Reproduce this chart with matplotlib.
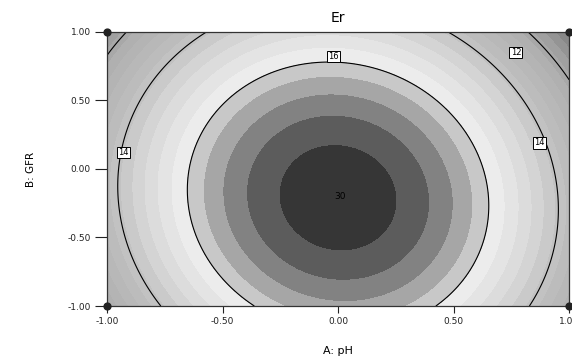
import numpy as np
import matplotlib
matplotlib.use("Agg")
import matplotlib.pyplot as plt

# quadratic model in coded units (A: pH, B: GFR)
b0 = 17.68
b_lin = [-0.067, -0.756]          # A, B
b_quad = [-4.15, -1.80]           # A^2, B^2
b_int = -0.32                     # AB

# shading bands and their grey tones (picture is a colour map printed in grey)
band_levels = [10.0, 10.375, 10.75, 11.125, 11.5, 11.875, 12.25, 12.625, 13.0,
               13.375, 13.75, 14.125, 14.5, 14.875, 15.25, 15.625, 16.0,
               16.375, 16.75, 17.125, 17.5, 18.5]
band_greys = ['#6a6a6a', '#7a7a7a', '#888888', '#949494', '#a0a0a0', '#a8a8a8',
              '#b0b0b0', '#b4b4b4', '#b8b8b8', '#bcbcbc', '#c2c2c2', '#cacaca',
              '#d4d4d4', '#dcdcdc', '#e4e4e4', '#ececec', '#c8c8c8', '#a6a6a6',
              '#828282', '#5c5c5c', '#363636']
line_levels = [12, 14, 16]

# contour label positions (coded units)
label_text = ['12', '16', '14', '14']
label_x = [0.77, -0.02, -0.93, 0.87]
label_y = [0.85, 0.82, 0.12, 0.19]

# design points
design_x = [-1, 1, -1, 1]
design_y = [-1, -1, 1, 1]
center_label = '30'
center_pos = (0.01, -0.20)

ticks = [-1.0, -0.5, 0.0, 0.5, 1.0]
tick_labels = ['-1.00', '-0.50', '0.00', '0.50', '1.00']

a = np.linspace(-1, 1, 400)
A, B = np.meshgrid(a, a)
Z = (b0 + b_lin[0] * A + b_lin[1] * B + b_quad[0] * A ** 2
     + b_quad[1] * B ** 2 + b_int * A * B)

fig = plt.figure(figsize=(5.72, 3.63), dpi=100)
ax = fig.add_axes([0.187, 0.157, 0.808, 0.755])

ax.contourf(A, B, Z, levels=band_levels, colors=band_greys, antialiased=False)
ax.contour(A, B, Z, levels=line_levels, colors='black', linewidths=0.8)

for t, x, y in zip(label_text, label_x, label_y):
    ax.text(x, y, t, fontsize=6, ha='center', va='center', zorder=5,
            bbox=dict(boxstyle='square,pad=0.15', fc='white', ec='black', lw=0.7))

ax.text(center_pos[0], center_pos[1], center_label, fontsize=6.5,
        ha='center', va='center')

ax.scatter(design_x, design_y, s=24, c='#222222', clip_on=False, zorder=6)

ax.set_xlim(-1, 1)
ax.set_ylim(-1, 1)
ax.set_xticks(ticks)
ax.set_xticklabels(tick_labels)
ax.set_yticks(ticks)
ax.set_yticklabels(tick_labels)
ax.tick_params(axis='x', direction='out', length=5, width=0.8, pad=3,
               labelsize=6.5, colors='#222222')
ax.tick_params(axis='y', direction='out', length=8.5, width=0.8, pad=3,
               labelsize=6.5, colors='#222222')
for s in ax.spines.values():
    s.set_linewidth(0.9)
    s.set_color('#333333')

ax.set_title('Er', fontsize=10, pad=7)
ax.set_xlabel('A: pH', fontsize=8, labelpad=14)
ax.set_ylabel('B: GFR', fontsize=7.5, labelpad=23)

fig.savefig('out.png', dpi=100)
